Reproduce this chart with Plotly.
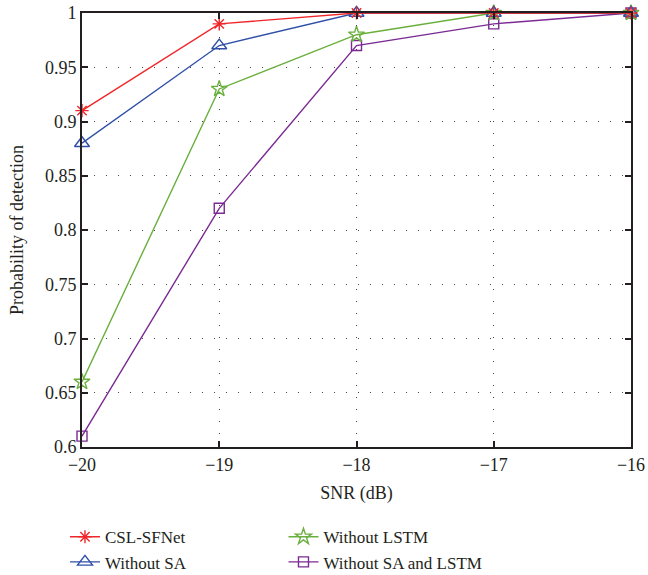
import plotly.graph_objects as go

snr = [-20, -19, -18, -17, -16]
csl_sfnet = [0.91, 0.99, 1.0, 1.0, 1.0]
without_sa = [0.88, 0.97, 1.0, 1.0, 1.0]
without_lstm = [0.66, 0.93, 0.98, 1.0, 1.0]
without_sa_lstm = [0.61, 0.82, 0.97, 0.99, 1.0]

x_ticks = [-20, -19, -18, -17, -16]
x_labels = ["\u221220", "\u221219", "\u221218", "\u221217", "\u221216"]
y_ticks = [0.6, 0.65, 0.7, 0.75, 0.8, 0.85, 0.9, 0.95, 1.0]
y_labels = ["0.6", "0.65", "0.7", "0.75", "0.8", "0.85", "0.9", "0.95", "1"]

font = "Liberation Serif"
txt = "#231f20"

series = [
    ("Without SA and LSTM", without_sa_lstm, "#7B2A93", "square-open", 10, 2, "legend2"),
    ("Without LSTM", without_lstm, "#6AAF3D", "star-open", 12, 1, "legend2"),
    ("Without SA", without_sa, "#2F4FA8", "triangle-up-open", 13, 2, "legend"),
    ("CSL-SFNet", csl_sfnet, "#F0262A", "asterisk-open", 11, 1, "legend"),
]

fig = go.Figure()
for name, vals, color, sym, size, rank, lg in series:
    fig.add_trace(go.Scatter(
        x=snr, y=vals, name=name, mode="lines+markers",
        line=dict(color=color, width=1.4),
        marker=dict(symbol=sym, size=size, color=color, line=dict(color=color, width=1.4)),
        legendrank=rank, legend=lg, cliponaxis=False,
    ))

axis_common = dict(
    showline=True, linecolor=txt, linewidth=2, mirror="ticks",
    ticks="inside", ticklen=6, tickwidth=1.5, tickcolor=txt,
    showgrid=True, gridcolor="#444444", griddash="1px,11px", gridwidth=1.3,
    zeroline=False, automargin=False, tickfont=dict(family=font, size=18, color=txt),
)

fig.update_xaxes(range=[-20, -16], tickvals=x_ticks, ticktext=x_labels,
                 title=dict(text="SNR (dB)", font=dict(family=font, size=18, color=txt), standoff=13),
                 **axis_common)
fig.update_yaxes(range=[0.6, 1.0], tickvals=y_ticks, ticktext=y_labels,
                 title=dict(text="Probability of detection", font=dict(family=font, size=18, color=txt), standoff=17),
                 **axis_common)

legend_common = dict(orientation="v", xanchor="left", yanchor="top",
                     xref="paper", yref="container",
                     font=dict(family=font, size=17, color=txt),
                     tracegroupgap=0, itemwidth=30, bgcolor="rgba(0,0,0,0)")

fig.update_layout(
    width=648, height=575,
    margin=dict(l=82, r=17, t=13, b=128),
    plot_bgcolor="white", paper_bgcolor="white",
    font=dict(family=font, size=18, color=txt),
    legend=dict(x=-0.031, y=0.097, **legend_common),
    legend2=dict(x=0.367, y=0.097, **legend_common),
    showlegend=True,
)

fig.write_html("out.html")
